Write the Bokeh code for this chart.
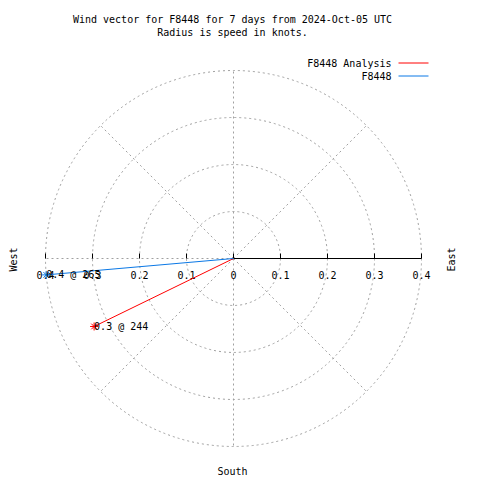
import numpy as np
from bokeh.plotting import figure
from bokeh.models import Range1d
from bokeh.core.properties import value
from bokeh.embed import file_html
from bokeh.resources import INLINE

# ---- data ----
series_names = ["F8448 Analysis", "F8448"]
series_colors = ["#ff0000", "#0a78e6"]
speeds = [0.33, 0.40]          # knots
directions = [244, 265]        # compass degrees
ring_radii = [0.1, 0.2, 0.3, 0.4]
spoke_angles = [45, 90, 135, 180, 225, 270, 315]   # math degrees
tick_values = [-0.4, -0.3, -0.2, -0.1, 0.0, 0.1, 0.2, 0.3, 0.4]
tick_labels = ["0.4", "0.3", "0.2", "0.1", "0", "0.1", "0.2", "0.3", "0.4"]
title_lines = ["Wind vector for F8448 for 7 days from 2024-Oct-05 UTC",
               "Radius is speed in knots."]
rmax = 0.4

# ---- layout helpers (image pixel -> data) ----
CX, CY, PPU = 233.0, 258.0, 470.0
W = H = 480
def dx(px):
    return (px - CX) / PPU
def dy(py):
    return (CY - py) / PPU

FONT = value("DejaVu Sans Mono")
FS = value("10px")
GRID = "#a0a0a0"

p = figure(width=W, height=H, output_backend="svg", toolbar_location=None,
           x_range=Range1d(dx(0), dx(W)), y_range=Range1d(dy(H), dy(0)),
           x_axis_type=None, y_axis_type=None, min_border=0,
           outline_line_color=None, background_fill_color="white")
p.xgrid.visible = False
p.ygrid.visible = False

# rings
p.circle(x=[0] * len(ring_radii), y=[0] * len(ring_radii), radius=ring_radii,
         fill_color=None, line_color=GRID, line_dash="2 3", line_width=1)
# spokes
ang = np.radians(spoke_angles)
p.segment(x0=0, y0=0, x1=rmax * np.cos(ang), y1=rmax * np.sin(ang),
          line_color=GRID, line_dash="2 3", line_width=1)

# right axis (solid)
p.segment(x0=[0], y0=[0], x1=[rmax], y1=[0], line_color="black", line_width=1)
# ticks
tl = 5 / PPU
p.segment(x0=tick_values, y0=0, x1=tick_values, y1=tl, line_color="black", line_width=1)
p.text(x=tick_values, y=[dy(274)] * len(tick_values), text=tick_labels,
       text_align="center", text_baseline="middle", text_font=FONT,
       text_font_size=FS, text_color="black")

# data vectors
th = np.radians(directions)
px_ = np.array(speeds) * np.sin(th)
py_ = np.array(speeds) * np.cos(th)
for i in range(len(series_names)):
    p.line(x=[0, px_[i]], y=[0, py_[i]], line_color=series_colors[i], line_width=1)
    p.scatter(x=[px_[i]], y=[py_[i]], marker="asterisk", size=8,
              line_color=series_colors[i], line_width=1)
    p.text(x=[px_[i]], y=[py_[i]], text=[f"{speeds[i]:.1f} @ {directions[i]}"],
           text_align="left", text_baseline="middle", text_font=FONT,
           text_font_size=FS, text_color="black")

# title
for j, t in enumerate(title_lines):
    p.text(x=[dx(232)], y=[dy(19 + 13 * j)], text=[t], text_align="center",
           text_baseline="middle", text_font=FONT, text_font_size=FS, text_color="black")

# legend
leg_y = [63, 76]
for i, name in enumerate(series_names):
    p.text(x=[dx(391)], y=[dy(leg_y[i])], text=[name], text_align="right",
           text_baseline="middle", text_font=FONT, text_font_size=FS, text_color="black")
    p.line(x=[dx(398), dx(428)], y=[dy(leg_y[i] - 0.5)] * 2,
           line_color=series_colors[i], line_width=1)

# compass labels
p.text(x=[dx(13)], y=[dy(259)], text=["West"], angle=np.pi / 2, text_align="center",
       text_baseline="middle", text_font=FONT, text_font_size=FS, text_color="black")
p.text(x=[dx(451)], y=[dy(259)], text=["East"], angle=np.pi / 2, text_align="center",
       text_baseline="middle", text_font=FONT, text_font_size=FS, text_color="black")
p.text(x=[dx(232)], y=[dy(471)], text=["South"], text_align="center",
       text_baseline="middle", text_font=FONT, text_font_size=FS, text_color="black")

open("out.html", "w").write(file_html(p, INLINE))
